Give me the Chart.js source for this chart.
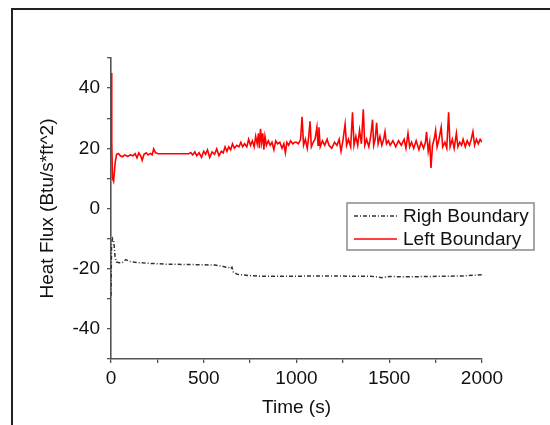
<!DOCTYPE html>
<html>
<head>
<meta charset="utf-8">
<script src="https://cdn.jsdelivr.net/npm/chart.js@4.4.1/dist/chart.umd.min.js"></script>
<style>
  html, body { margin: 0; padding: 0; background: #fff; }
  #wrap { width: 550px; height: 425px; }
</style>
</head>
<body>
<div id="wrap"><canvas id="flux" width="550" height="425"></canvas></div>
<script>
// Heat flux readings
const leftTime = [
    0, 4, 8, 14, 22, 30, 40, 50, 62, 75,
    90, 105, 118, 130, 140, 150, 160, 168, 178, 190,
    200, 212, 222, 230, 240, 255, 300, 350, 420, 430,
    440, 452, 462, 475, 488, 500, 510, 520, 532, 545,
    558, 570, 582, 595, 605, 615, 625, 635, 645, 655,
    665, 678, 690, 700, 710, 720, 732, 742, 752, 762,
    772, 780, 788, 795, 800, 806, 812, 818, 824, 830,
    838, 848, 858, 868, 878, 888, 898, 910, 922, 932,
    940, 948, 958, 968, 980, 990, 1000, 1010, 1022, 1030,
    1038, 1048, 1058, 1066, 1073, 1080, 1090, 1100, 1110, 1116,
    1121, 1128, 1140, 1152, 1165, 1175, 1190, 1205, 1218, 1230,
    1240, 1250, 1262, 1270, 1280, 1292, 1302, 1310, 1320, 1330,
    1340, 1350, 1360, 1368, 1378, 1390, 1400, 1410, 1416, 1424,
    1432, 1440, 1450, 1460, 1470, 1477, 1485, 1495, 1505, 1520,
    1535, 1550, 1565, 1580, 1590, 1601, 1610, 1620, 1632, 1645,
    1660, 1672, 1685, 1695, 1701, 1710, 1718, 1725, 1733, 1742,
    1750, 1758, 1768, 1780, 1788, 1800, 1810, 1820, 1828, 1840,
    1850, 1862, 1870, 1880, 1890, 1898, 1910, 1920, 1932, 1942,
    1951, 1960, 1970, 1980, 1990, 2000
];
const leftFlux = [
    45, 22, 10, 9, 15, 18, 18.3, 17.5, 17.2, 17.8,
    17.3, 17.8, 17.5, 18.2, 16.8, 18.5, 17.5, 16, 18, 18.5,
    17.8, 18.3, 17.8, 19.8, 18.5, 18.2, 18.2, 18.2, 18.2, 18.6,
    17.8, 18.8, 17.5, 18.5, 17, 19, 18, 19.5, 17, 18.8,
    18, 19.8, 17.5, 19, 18.5, 20.5, 19, 20.5, 19.5, 21.5,
    20, 21, 20.5, 22, 20.5, 21.5, 20.5, 23, 21, 22.5,
    20.5, 24, 21.5, 25, 20, 26.5, 22, 25, 19.5, 24,
    21, 22.5, 21, 22, 19.5, 22.5, 21.5, 22, 20, 21.5,
    18.5, 22, 21, 22.5, 21.5, 22, 22, 21.5, 23, 30.5,
    21, 23, 20, 24, 29, 20.5, 22, 23, 27, 21,
    27, 20.5, 22.5, 21, 23, 21, 20, 22, 21, 23,
    19, 22.5, 28, 21, 23, 20.5, 32, 21, 24, 21,
    26, 21.5, 33, 21, 23, 20.5, 24, 29.5, 21, 23,
    28.5, 21.5, 24, 21, 23, 25.5, 21.5, 22.5, 21, 22.5,
    20.5, 22.5, 21, 23, 20, 25, 20.5, 22, 20, 22.5,
    19.5, 22, 20, 22, 25.5, 19, 22, 13.5, 21, 23,
    26, 20.5, 23, 27, 20.5, 22, 20, 32, 20.5, 23,
    20, 25, 20.5, 22, 21, 23, 20.5, 22.5, 21, 23,
    25.5, 21, 23, 21.5, 23, 22
];

const rightTime = [
    0, 3, 8, 15, 22, 30, 45, 60, 80, 100,
    150, 200, 300, 400, 500, 560, 600, 620, 635, 645,
    652, 660, 680, 700, 750, 800, 900, 1000, 1100, 1200,
    1300, 1400, 1440, 1460, 1500, 1600, 1700, 1800, 1900, 2000
];
const rightFlux = [
    -29, -12, -10, -11, -16, -17.8, -18, -18, -17, -17.6,
    -18, -18.2, -18.5, -18.6, -18.7, -18.8, -19.2, -19.5, -19.6, -20,
    -19.5, -21.2, -21.8, -22, -22.3, -22.5, -22.5, -22.5, -22.4, -22.4,
    -22.5, -22.5, -22.8, -23, -22.6, -22.7, -22.6, -22.5, -22.4, -22
];

const seriesNames = ['Righ Boundary', 'Left Boundary'];
const yTicksLabelled = [-40, -20, 0, 20, 40];
const xTicksLabelled = [0, 500, 1000, 1500, 2000];

const FONT = '"Liberation Sans", Arial, sans-serif';
const FONT_SIZE = 19;

function toPoints(xs, ys) {
    return xs.map((x, i) => ({ x: x, y: ys[i] }));
}

// frame around the figure, only top and left edges are visible
const framePlugin = {
    id: 'frame',
    afterDraw(chart) {
        const ctx = chart.ctx;
        ctx.save();
        ctx.strokeStyle = '#222';
        ctx.lineWidth = 2;
        ctx.beginPath();
        ctx.moveTo(12, 425);
        ctx.lineTo(12, 9);
        ctx.lineTo(550, 9);
        ctx.stroke();
        ctx.restore();
    }
};

// boxed legend that sits partly outside the plot area
const boxLegend = {
    id: 'boxLegend',
    afterDraw(chart) {
        const ctx = chart.ctx;
        const x0 = 347, y0 = 203, w = 187, h = 47;
        ctx.save();
        ctx.fillStyle = '#fff';
        ctx.fillRect(x0, y0, w, h);
        ctx.strokeStyle = '#8a8a8a';
        ctx.lineWidth = 1.5;
        ctx.strokeRect(x0, y0, w, h);
        ctx.font = FONT_SIZE + 'px ' + FONT;
        ctx.textBaseline = 'middle';
        chart.data.datasets.forEach((ds, i) => {
            const y = 216 + i * 23;
            ctx.strokeStyle = ds.borderColor;
            ctx.lineWidth = ds.borderWidth;
            ctx.setLineDash(ds.borderDash || []);
            ctx.beginPath();
            ctx.moveTo(354, y);
            ctx.lineTo(397, y);
            ctx.stroke();
            ctx.setLineDash([]);
            ctx.fillStyle = '#111';
            ctx.fillText(ds.label, 403, y + 1);
        });
        ctx.restore();
    }
};

new Chart(document.getElementById('flux'), {
    type: 'line',
    data: {
        datasets: [
            {
                label: seriesNames[0],
                data: toPoints(rightTime, rightFlux),
                borderColor: '#333',
                borderWidth: 1.5,
                borderDash: [4, 2, 1, 2],
                pointRadius: 0,
                tension: 0,
                fill: false
            },
            {
                label: seriesNames[1],
                data: toPoints(leftTime, leftFlux),
                borderColor: '#ff0000',
                borderWidth: 1.6,
                pointRadius: 0,
                tension: 0,
                fill: false
            }
        ]
    },
    options: {
        responsive: false,
        animation: false,
        devicePixelRatio: 1,
        layout: { padding: { left: 36, top: 58, right: 68, bottom: 6 } },
        plugins: {
            legend: { display: false },
            tooltip: { enabled: false }
        },
        scales: {
            x: {
                type: 'linear',
                min: 0,
                max: 2000,
                afterFit: s => { s.height = 60; },
                border: { color: '#555', width: 1.6 },
                grid: { drawOnChartArea: false, tickLength: 4, color: '#555', lineWidth: 1.3 },
                ticks: {
                    stepSize: 250,
                    padding: 4,
                    maxRotation: 0,
                    autoSkip: false,
                    color: '#111',
                    font: { family: FONT, size: FONT_SIZE },
                    callback: v => xTicksLabelled.includes(v) ? String(v) : ''
                },
                title: {
                    display: true,
                    text: 'Time (s)',
                    color: '#111',
                    padding: 0,
                    font: { family: FONT, size: FONT_SIZE }
                }
            },
            y: {
                min: -50,
                max: 50,
                afterFit: s => { s.width = 75; },
                border: { color: '#555', width: 1.6 },
                grid: { drawOnChartArea: false, tickLength: 4, color: '#555', lineWidth: 1.3 },
                ticks: {
                    stepSize: 10,
                    padding: 7,
                    autoSkip: false,
                    color: '#111',
                    font: { family: FONT, size: FONT_SIZE },
                    callback: v => yTicksLabelled.includes(v) ? String(v) : ''
                },
                title: {
                    display: true,
                    text: 'Heat Flux (Btu/s*ft^2)',
                    color: '#111',
                    padding: 0,
                    font: { family: FONT, size: FONT_SIZE }
                }
            }
        }
    },
    plugins: [framePlugin, boxLegend]
});
</script>
</body>
</html>
